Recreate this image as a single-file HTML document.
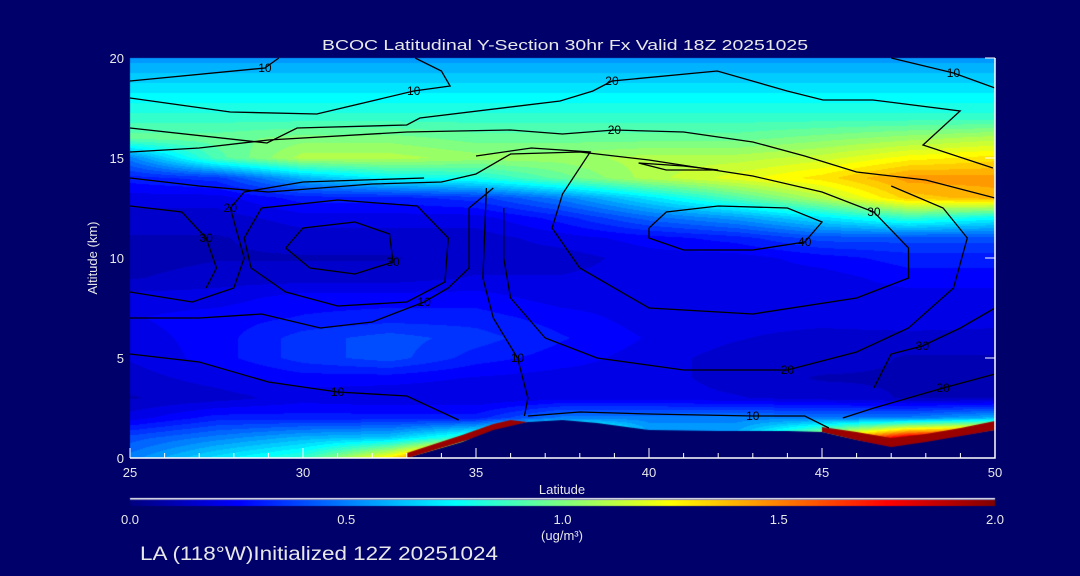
<!DOCTYPE html>
<html><head><meta charset="utf-8"><style>
body{margin:0;background:#00006a;width:1080px;height:576px;overflow:hidden;font-family:"Liberation Sans",sans-serif;color:#e8e8e8}
#wrap{position:relative;width:1080px;height:576px}
canvas,svg{position:absolute;left:0;top:0}
</style></head><body><div id="wrap">
<canvas id="cv" width="1080" height="576"></canvas>
<svg id="sv" width="1080" height="576"></svg>
</div>
<script>
const lats=[25,27.5,30,32.5,35,37.5,40,42.5,45,47.5,50];
const alts=[0,1,2,3,4,5,6,7,8,9,10,11,12,13,14,15,16,17,18,19,20];
const vals=[
[0.5,0.7,0.85,1.3,2.0,2.0,2.0,2.0,2.0,2.0,2.0],
[0.4,0.5,0.6,0.65,0.9,1.5,0.6,0.6,1.2,1.9,2.0],
[0.2,0.3,0.3,0.3,0.3,0.5,0.5,0.5,0.5,0.5,0.6],
[0.12,0.15,0.2,0.18,0.18,0.2,0.2,0.18,0.15,0.12,0.12],
[0.15,0.2,0.25,0.25,0.22,0.2,0.2,0.15,0.12,0.12,0.12],
[0.18,0.25,0.35,0.4,0.3,0.25,0.2,0.15,0.15,0.12,0.12],
[0.2,0.25,0.35,0.4,0.35,0.28,0.22,0.18,0.15,0.15,0.15],
[0.22,0.25,0.28,0.3,0.3,0.25,0.2,0.2,0.2,0.22,0.2],
[0.2,0.2,0.25,0.25,0.25,0.2,0.2,0.2,0.2,0.2,0.2],
[0.12,0.15,0.15,0.15,0.18,0.18,0.2,0.2,0.2,0.25,0.25],
[0.1,0.12,0.12,0.12,0.15,0.15,0.2,0.2,0.25,0.3,0.3],
[0.12,0.12,0.15,0.15,0.15,0.2,0.25,0.3,0.4,0.4,0.4],
[0.15,0.15,0.2,0.2,0.2,0.3,0.45,0.55,0.7,0.85,0.75],
[0.2,0.2,0.3,0.3,0.35,0.5,0.7,0.9,1.1,1.35,1.4],
[0.3,0.35,0.6,0.75,0.8,0.95,1.1,1.2,1.3,1.45,1.45],
[0.5,0.9,1.1,1.1,1.05,1.05,1.1,1.1,1.15,1.25,1.3],
[0.95,0.95,1.0,1.0,0.95,0.95,0.95,0.95,1.0,1.05,1.1],
[0.85,0.85,0.85,0.85,0.85,0.85,0.85,0.85,0.85,0.85,0.85],
[0.75,0.75,0.75,0.75,0.75,0.75,0.75,0.75,0.75,0.75,0.75],
[0.65,0.65,0.65,0.65,0.65,0.65,0.65,0.65,0.65,0.65,0.65],
[0.55,0.55,0.55,0.55,0.55,0.55,0.55,0.55,0.55,0.55,0.55]];
const terrainLat=[25,33,34.6,35.5,36.5,37.5,38.5,40,42,44,45,46,47,48,49,50];
const terrainAlt=[0,0,0.8,1.4,1.8,1.9,1.75,1.4,1.35,1.35,1.3,0.9,0.55,0.8,1.1,1.4];
const redLat=[33,34.6,35.5,36,45,46,47,48,49,50];
const redTop=[0.25,1.15,1.7,1.9,1.55,1.3,1.0,1.2,1.5,1.85];
const xTicks=[25,30,35,40,45,50];
const yTicks=[0,5,10,15,20];
const cbTicks=["0.0","0.5","1.0","1.5","2.0"];
const contours=[
 {lv:"10",pts:[[25,18.85],[28.9,19.5],[29.3,20]]},
 {lv:"10",pts:[[25,18.0],[27.9,17.3],[30.4,17.2],[33.2,18.35],[34.25,18.6],[34.0,19.35],[33.24,20]]},
 {lv:"10",pts:[[47.0,20],[48.8,19.25],[50,18.5]]},
 {lv:"20",pts:[[25,16.5],[28.96,15.75],[29.83,16.5],[33.0,16.65],[33.38,17.0],[37.43,17.85],[38.38,18.35],[38.93,18.85],[41.97,19.35],[43.99,18.35],[45.03,17.9],[46.47,17.9],[48.99,17.35],[47.92,15.65],[49.94,14.5]]},
 {lv:"20",pts:[[25,15.3],[27,15.5],[29,15.9],[33,16.3],[36,16.4],[37.5,16.2],[39,16.4],[41,16.3],[43,15.8],[44.5,15.1],[46,14.3],[48,13.9],[50,13.0]]},
 {lv:"30",pts:[[25,14.0],[27,13.6],[29,13.3],[32,13.7],[34,13.8],[35,14.2],[36,15.2],[38,15.3],[40,14.9],[43,14.1],[45,13.3],[46.5,12.3],[47.5,10.5],[47.5,9],[46,8],[43,7.2],[40,7.5],[38,9.5],[37.2,11.5],[37.5,13.2],[38.3,15.3],[36.6,15.5],[35,15.1]]},
 {lv:"40",pts:[[40,11.5],[40.5,12.3],[42,12.6],[44,12.5],[45,11.8],[44.5,10.8],[43,10.4],[41,10.4],[40,11.0],[40,11.5]]},
 {lv:"",pts:[[39.7,14.75],[41,14.6],[42,14.4],[40.5,14.4],[39.7,14.75]]},
 {lv:"20",pts:[[35.8,12.5],[35.8,10],[36,8],[37,6],[38.5,5],[41,4.4],[44,4.4],[46,5.3],[47.5,6.5],[48.8,8.5],[49.2,11],[48.5,12.5],[47,13.6]]},
 {lv:"30",pts:[[29.5,10.5],[30,11.5],[31.5,11.8],[32.5,11.2],[32.6,9.8],[31.5,9.2],[30.2,9.5],[29.5,10.5]]},
 {lv:"",pts:[[28.3,11],[28.8,12.5],[31,12.9],[33.3,12.6],[34.2,11],[34.1,8.8],[33,7.8],[31,7.6],[29.5,8.3],[28.5,9.5],[28.3,11]]},
 {lv:"30",pts:[[25,12.6],[26.5,12.3],[27.2,11],[27.5,9.5],[27.2,8.5]]},
 {lv:"20",pts:[[25,8.3],[26.8,7.8],[28,8.5],[28.3,10],[27.9,12.5],[28.3,13.3],[30,13.8],[33.5,14]]},
 {lv:"10",pts:[[25,7],[27,7],[28.8,7.2],[30.5,6.5],[32,6.8],[33.5,7.8],[34.2,8.5],[34.8,9.5],[34.8,12.5],[35.5,13.5]]},
 {lv:"10",pts:[[25,5.2],[27,4.8],[29,3.8],[31,3.3],[33,3.1],[34.5,1.9]]},
 {lv:"10",pts:[[35.3,13.5],[35.2,9],[35.5,7],[36.2,5],[36.5,3],[36.4,2.1]]},
 {lv:"30",pts:[[46.5,3.5],[47,5.2],[47.9,5.6],[49,6.5],[50,7.5]]},
 {lv:"20",pts:[[45.6,2],[46.5,2.5],[48.5,3.5],[50,4.2]]},
 {lv:"10",pts:[[36.5,2.1],[38,2.3],[40,2.2],[43,2.1],[44.5,2.1],[45.2,1.5]]}
];
const X0=130,X1=995,Y0=458,Y1=58;
function px(l){return X0+(l-25)/25*(X1-X0);}
function py(a){return Y0-a/20*(Y0-Y1);}
function jet(v){let f=Math.max(0,Math.min(1,v/2));const c=t=>Math.round(255*Math.max(0,Math.min(1,1.5-Math.abs(4*f-t))));return [c(3),c(2),c(1)];}
const cv=document.getElementById('cv');const ctx=cv.getContext('2d');
const img=ctx.createImageData(X1-X0,Y0-Y1);
for(let j=0;j<Y0-Y1;j++){const a=20-(j+0.5)/(Y0-Y1)*20;let ai=Math.min(19,Math.floor(a)),at=a-ai;
 for(let i=0;i<X1-X0;i++){const l=25+(i+0.5)/(X1-X0)*25;let li=Math.min(9,Math.floor((l-25)/2.5)),lt=(l-25)/2.5-li;
  const v=(vals[ai][li]*(1-lt)+vals[ai][li+1]*lt)*(1-at)+(vals[ai+1][li]*(1-lt)+vals[ai+1][li+1]*lt)*at;
  const q=Math.round(v*20)/20;const c=jet(q);const k=(j*(X1-X0)+i)*4;img.data[k]=c[0];img.data[k+1]=c[1];img.data[k+2]=c[2];img.data[k+3]=255;}}
ctx.putImageData(img,X0,Y1);
ctx.fillStyle='#9a0000';ctx.beginPath();
ctx.moveTo(px(redLat[0]),py(0));
for(let i=0;i<4;i++)ctx.lineTo(px(redLat[i]),py(redTop[i]));
ctx.lineTo(px(36.5),py(1.8));ctx.lineTo(px(33),py(0));ctx.closePath();ctx.fill();
ctx.beginPath();ctx.moveTo(px(redLat[4]),py(redTop[4]));
for(let i=4;i<redLat.length;i++)ctx.lineTo(px(redLat[i]),py(redTop[i]));
ctx.lineTo(px(50),py(1.4));for(let i=terrainLat.length-1;i>=10;i--)ctx.lineTo(px(terrainLat[i]),py(terrainAlt[i]));ctx.closePath();ctx.fill();
ctx.fillStyle='#00006a';ctx.beginPath();ctx.moveTo(px(25),py(0));
for(let i=0;i<terrainLat.length;i++)ctx.lineTo(px(terrainLat[i]),py(terrainAlt[i]));
ctx.lineTo(px(50),py(0));ctx.closePath();ctx.fill();
for(let x=X0;x<X1;x++){const c=jet((x-X0)/(X1-X0)*2);ctx.fillStyle=`rgb(${c[0]},${c[1]},${c[2]})`;ctx.fillRect(x,500,1,6);}
ctx.fillStyle='#fff';ctx.fillRect(X0,498,X1-X0,1.5);
const NS='http://www.w3.org/2000/svg';const sv=document.getElementById('sv');
function el(t,attrs,txt){const e=document.createElementNS(NS,t);for(const k in attrs)e.setAttribute(k,attrs[k]);if(txt!==undefined)e.textContent=txt;sv.appendChild(e);return e;}
contours.forEach((c,ci)=>{const e=el('polyline',{points:c.pts.map(p=>px(p[0]).toFixed(1)+','+py(p[1]).toFixed(1)).join(' '),fill:'none',stroke:'#000','stroke-width':1.3});
 
 
 if(c.lv){const m=c.pts[Math.floor(c.pts.length/2)];const t=el('text',{x:px(m[0]),y:py(m[1])+4,'font-size':12,fill:'#000','text-anchor':'middle'},c.lv);
  
  }});
const fr=el('path',{d:`M${X0},${Y0}H${X1}V${Y1}`,stroke:'#fff','stroke-width':1.5,fill:'none'});


for(let l=25;l<=50;l++){const major=xTicks.includes(l);const t=el('line',{x1:px(l),x2:px(l),y1:Y0,y2:Y0-(major?10:5),stroke:'#fff','stroke-width':1});
 
 }
xTicks.forEach(l=>{const t=el('text',{x:px(l),y:477,'font-size':13,fill:'#e8e8e8','text-anchor':'middle'},String(l));
 
 });
yTicks.forEach(a=>{const t=el('text',{x:124,y:py(a)+5,'font-size':13,fill:'#e8e8e8','text-anchor':'end'},String(a));
 
 
 const k=el('line',{x1:X1,x2:X1-10,y1:py(a),y2:py(a),stroke:'#fff'});
 
 });
cbTicks.forEach((s,i)=>{const t=el('text',{x:X0+i*(X1-X0)/4,y:524,'font-size':13,fill:'#e8e8e8','text-anchor':'middle'},s);
 
 });
const tt=el('text',{x:322,y:50,'font-size':15,fill:'#e8e8e8',textLength:486,lengthAdjust:'spacingAndGlyphs'},'BCOC Latitudinal Y-Section 30hr  Fx Valid 18Z 20251025');


const xl=el('text',{x:562,y:494,'font-size':13,fill:'#e8e8e8','text-anchor':'middle'},'Latitude');


const yl=el('text',{x:97,y:258,'font-size':13,fill:'#e8e8e8','text-anchor':'middle',transform:'rotate(-90 97 258)'},'Altitude (km)');


const un=el('text',{x:562,y:540,'font-size':13,fill:'#e8e8e8','text-anchor':'middle'},'(ug/m³)');


const ft=el('text',{x:140,y:560,'font-size':19,fill:'#e8e8e8',textLength:358,lengthAdjust:'spacingAndGlyphs'},'LA (118°W)Initialized 12Z 20251024');


</script></body></html>
